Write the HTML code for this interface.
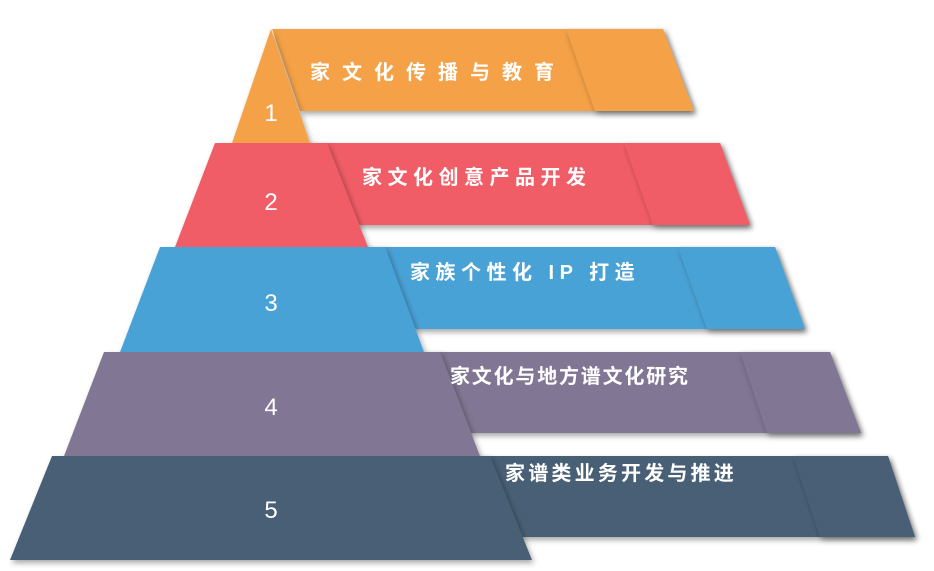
<!DOCTYPE html>
<html><head><meta charset="utf-8"><style>
html,body{margin:0;padding:0;background:#fff;}
svg{display:block;}
text{font-family:"Liberation Sans","Noto Sans CJK SC",sans-serif;fill:#fff;}
.t{font-size:20px;font-weight:bold;}
.n{font-size:24px;}
</style></head><body>
<svg width="934" height="571" viewBox="0 0 934 571">
<defs>
<filter id="s" x="-10%" y="-20%" width="130%" height="150%"><feDropShadow dx="2" dy="3" stdDeviation="3" flood-color="#000" flood-opacity="0.35"/></filter>
</defs>
<g filter="url(#s)"><polygon points="272,29 663,29 694,111 300,111" fill="#F4A146"/></g>
<polygon points="566,29 663,29 694,111 595,111" fill="#F4A146" filter="url(#s)"/>
<g filter="url(#s)"><polygon points="300,143 720,143 750,225 330,225" fill="#F05D66"/></g>
<polygon points="624,143 720,143 750,225 653,225" fill="#F05D66" filter="url(#s)"/>
<g filter="url(#s)"><polygon points="360,247 775,247 805,329 390,329" fill="#4AA2D6"/></g>
<polygon points="678,247 775,247 805,329 707,329" fill="#4AA2D6" filter="url(#s)"/>
<g filter="url(#s)"><polygon points="420,352 830,352 861,433 450,433" fill="#817693"/></g>
<polygon points="740,352 830,352 861,433 767,433" fill="#817693" filter="url(#s)"/>
<g filter="url(#s)"><polygon points="470,456 888,456 915,537 500,537" fill="#485E74"/></g>
<polygon points="793,456 888,456 915,537 820,537" fill="#485E74" filter="url(#s)"/>
<g filter="url(#s)">
<polygon points="271,29 310,143 232,143" fill="#F4A146"/>
<polygon points="215,143 327,143 368,247 175,247" fill="#F05D66"/>
<polygon points="160,247 385,247 424,352 120,352" fill="#4AA2D6"/>
<polygon points="104,352 440,352 480,456 64,456" fill="#817693"/>
<polygon points="52,456 490,456 532,560 10,560" fill="#485E74"/>
</g>
<text class="n" x="271" y="121" text-anchor="middle">1</text>
<text class="n" x="271" y="210" text-anchor="middle">2</text>
<text class="n" x="271" y="311" text-anchor="middle">3</text>
<text class="n" x="271" y="415" text-anchor="middle">4</text>
<text class="n" x="271" y="518" text-anchor="middle">5</text>
<text class="t" x="310" y="79" letter-spacing="12">家文化传播与教育</text>
<text class="t" x="362" y="184" letter-spacing="5.5">家文化创意产品开发</text>
<text class="t" x="410" y="279" letter-spacing="5.5">家族个性化 IP 打造</text>
<text class="t" x="450" y="383" font-size="22" letter-spacing="1.8">家文化与地方谱文化研究</text>
<text class="t" x="505" y="480" font-size="22" letter-spacing="3.2">家谱类业务开发与推进</text>
</svg>
</body></html>
